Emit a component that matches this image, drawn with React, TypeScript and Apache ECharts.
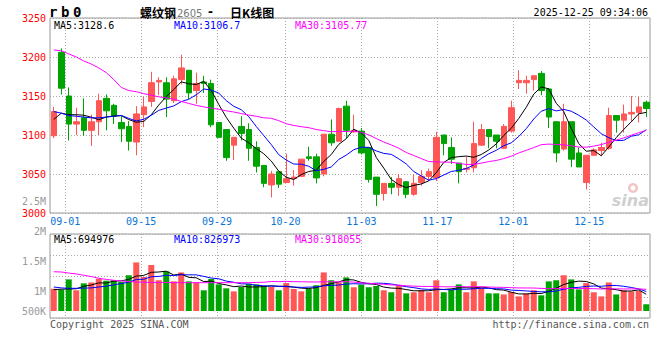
import React, { useEffect, useRef } from "react";
import * as echarts from "echarts";

const dates = [
  "08-28", "08-29", "09-01", "09-02", "09-03", "09-04", "09-05", "09-08", "09-09", "09-10",
  "09-11", "09-12", "09-15", "09-16", "09-17", "09-18", "09-19", "09-22", "09-23", "09-24",
  "09-25", "09-26", "09-29", "09-30", "10-09", "10-10", "10-13", "10-14", "10-15", "10-16",
  "10-17", "10-20", "10-21", "10-22", "10-23", "10-24", "10-27", "10-28", "10-29", "10-30",
  "10-31", "11-03", "11-04", "11-05", "11-06", "11-07", "11-10", "11-11", "11-12", "11-13",
  "11-14", "11-17", "11-18", "11-19", "11-20", "11-21", "11-24", "11-25", "11-26", "11-27",
  "11-28", "12-01", "12-02", "12-03", "12-04", "12-05", "12-08", "12-09", "12-10", "12-11",
  "12-12", "12-15", "12-16", "12-17", "12-18", "12-19", "12-22", "12-23", "12-24", "12-25",
];

const opens = [
  3099, 3206, 3150, 3114, 3122, 3106, 3117, 3147, 3138, 3116,
  3111, 3091, 3126, 3143, 3168, 3167, 3144, 3171, 3183, 3157,
  3168, 3166, 3116, 3107, 3087, 3111, 3107, 3084, 3061, 3036,
  3053, 3039, 3044, 3047, 3072, 3072, 3050, 3101, 3092, 3137,
  3104, 3105, 3084, 3046, 3025, 3038, 3033, 3040, 3024, 3039,
  3047, 3045, 3100, 3084, 3064, 3056, 3058, 3087, 3107, 3100,
  3083, 3105, 3167, 3167, 3171, 3179, 3159, 3117, 3082, 3117,
  3077, 3039, 3074, 3080, 3083, 3125, 3119, 3127, 3129, 3142,
];
const closes = [
  3130, 3160, 3114, 3117, 3106, 3117, 3144, 3131, 3124, 3108,
  3092, 3127, 3136, 3167, 3170, 3146, 3172, 3186, 3154, 3166,
  3166, 3113, 3097, 3071, 3097, 3102, 3083, 3060, 3038, 3050,
  3037, 3044, 3046, 3069, 3070, 3045, 3101, 3090, 3134, 3106,
  3106, 3077, 3043, 3024, 3038, 3033, 3044, 3024, 3038, 3047,
  3053, 3097, 3089, 3069, 3053, 3057, 3089, 3107, 3098, 3092,
  3111, 3135, 3170, 3170, 3176, 3157, 3123, 3077, 3117, 3069,
  3059, 3074, 3081, 3084, 3125, 3119, 3127, 3129, 3136, 3134,
];
const lows = [
  3096, 3152, 3093, 3100, 3099, 3086, 3100, 3106, 3114, 3091,
  3080, 3074, 3110, 3136, 3151, 3123, 3141, 3165, 3146, 3140,
  3154, 3110, 3096, 3067, 3068, 3093, 3067, 3052, 3033, 3020,
  3032, 3039, 3035, 3046, 3067, 3038, 3047, 3086, 3092, 3096,
  3103, 3075, 3039, 3009, 3016, 3024, 3022, 3019, 3022, 3035,
  3041, 3041, 3074, 3063, 3038, 3052, 3052, 3086, 3083, 3083,
  3082, 3103, 3159, 3153, 3157, 3151, 3109, 3065, 3080, 3059,
  3059, 3030, 3074, 3073, 3081, 3103, 3103, 3117, 3116, 3123,
];
const highs = [
  3136, 3211, 3161, 3135, 3147, 3126, 3153, 3152, 3140, 3124,
  3118, 3137, 3149, 3181, 3174, 3174, 3176, 3203, 3183, 3180,
  3176, 3171, 3116, 3107, 3097, 3124, 3115, 3092, 3061, 3054,
  3053, 3076, 3055, 3069, 3085, 3076, 3101, 3120, 3135, 3144,
  3126, 3109, 3084, 3046, 3038, 3046, 3050, 3041, 3050, 3055,
  3057, 3104, 3100, 3097, 3064, 3072, 3117, 3114, 3107, 3100,
  3114, 3144, 3183, 3176, 3176, 3182, 3160, 3117, 3140, 3117,
  3084, 3074, 3083, 3090, 3135, 3125, 3139, 3150, 3149, 3144,
];

const volumes = [
  938000, 902000, 1334000, 874000, 1168000, 1205000, 1362000, 1279000, 1297000, 1224000,
  1509000, 2052000, 1435000, 1941000, 1297000, 1674000, 1251000, 1628000, 1251000, 1205000,
  874000, 1352000, 1122000, 957000, 828000, 1012000, 1150000, 1122000, 1040000, 1012000,
  874000, 1178000, 929000, 828000, 929000, 1086000, 1628000, 1297000, 1205000, 1417000,
  1003000, 1113000, 1003000, 1058000, 874000, 791000, 1058000, 745000, 791000, 883000,
  791000, 1297000, 791000, 902000, 1122000, 791000, 1251000, 975000, 745000, 745000,
  699000, 800000, 616000, 736000, 874000, 662000, 1251000, 1297000, 1509000, 1334000,
  911000, 1178000, 791000, 616000, 1205000, 699000, 874000, 828000, 846000, 285000,
];

// moving-average values at the left edge (their windows reach before the first candle)
const ma5Lead = [3120, 3128, 3126, 3126];
const ma10Lead = [3130, 3128, 3125, 3124, 3123, 3122, 3122, 3123, 3124];
const ma30Lead = [
  3209, 3208, 3204, 3200, 3195, 3191, 3186, 3180, 3171, 3161,
  3157, 3155.6, 3153, 3151, 3149, 3147.6, 3146, 3143, 3140.5, 3138,
  3136, 3134.5, 3133, 3131, 3129.5, 3127.5, 3125.6, 3124, 3122,
];
const vma5Lead = [902000, 920000, 929000, 938000];
const vma10Lead = [1012000, 975000, 957000, 957000, 966000, 975000, 1012000, 1049000, 1104000];
const vma30Lead = [
  1656000, 1647000, 1601000, 1564000, 1509000, 1454000, 1380000, 1334000, 1297000, 1270000,
  1242000, 1224000, 1214000, 1205000, 1205000, 1205000, 1196000, 1196000, 1196000, 1196000,
  1196000, 1196000, 1196000, 1196000, 1196000, 1196000, 1196000, 1205000, 1214000,
];

const xLabelDates = ["09-01", "09-15", "09-29", "10-20", "11-03", "11-17", "12-01", "12-15"];
const priceMin = 3000;
const priceMax = 3250;
const priceStep = 50;
const volTickLabels = ["2M", "1.5M", "1M", "500K"];
const volTickY = [231, 261, 291, 311];

const title = { code: ["r", "b", "0"], name: "螺纹钢", contract: "2605", kind: "日K线图" };
const timestamp = "2025-12-25 09:34:06";
const priceLegend = ["MA5:3128.6", "MA10:3106.7", "MA30:3105.77"];
const volLegend = ["MA5:694976", "MA10:826973", "MA30:918055"];

const UP = "#ff5656";
const DOWN = "#00a400";
const MONO = "'DejaVu Sans Mono', monospace";

function movingAverage(values: number[], n: number, lead: number[]) {
  return values.map((_, i) => {
    if (i < n - 1) return lead[i];
    let s = 0;
    for (let k = i - n + 1; k <= i; k++) s += values[k];
    return +(s / n).toFixed(2);
  });
}

export default function App() {
  const ref = useRef<HTMLDivElement>(null);
  useEffect(() => {
    if (!ref.current) return;
    const chart = echarts.init(ref.current, null, { renderer: "svg" });
    const candles = dates.map((_, i) => [opens[i], closes[i], lows[i], highs[i]]);
    const volBars = volumes.map((v, i) => ({
      value: v,
      itemStyle: { color: closes[i] >= opens[i] ? UP : DOWN },
    }));
    const labelIdx = new Set(xLabelDates.map((d) => dates.indexOf(d)));
    const showAt = (idx: number) => labelIdx.has(idx);
    const dotted = { color: "#aaaaaa", type: [1, 2] as any, width: 1 };
    const legendColors = ["#000000", "#0000ff", "#ff00ff"];
    const legendX = [54, 174, 295];

    const graphic: any[] = [];
    const codeX = [49, 61, 73];
    title.code.forEach((t, k) =>
      graphic.push({ type: "text", x: codeX[k], y: 12, style: { text: t, fill: "#000", font: `bold 14px ${MONO}`, verticalAlign: "middle" } })
    );
    graphic.push({ type: "text", x: 140, y: 12, style: { text: title.name, fill: "#000", font: "bold 12px 'Noto Sans CJK SC'", verticalAlign: "middle" } });
    graphic.push({ type: "text", x: 177, y: 13, style: { text: title.contract, fill: "#777", font: "10px 'DejaVu Sans'", verticalAlign: "middle" } });
    graphic.push({ type: "text", x: 208, y: 12, style: { text: "-", fill: "#000", font: "bold 12px 'DejaVu Sans'", verticalAlign: "middle" } });
    graphic.push({ type: "text", x: 230, y: 12, style: { text: title.kind, fill: "#000", font: "bold 12px 'Noto Sans CJK SC'", verticalAlign: "middle" } });
    graphic.push({ type: "text", x: 648, y: 12.5, style: { text: timestamp, fill: "#000", font: `10px ${MONO}`, align: "right", verticalAlign: "middle" } });
    priceLegend.forEach((t, k) =>
      graphic.push({ type: "text", x: legendX[k], y: 25, style: { text: t, fill: legendColors[k], font: `10px ${MONO}`, verticalAlign: "middle" } })
    );
    volLegend.forEach((t, k) =>
      graphic.push({ type: "text", x: legendX[k], y: 239, style: { text: t, fill: legendColors[k], font: `10px ${MONO}`, verticalAlign: "middle" } })
    );
    graphic.push({ type: "text", x: 46, y: 201, style: { text: "2.5M", fill: "#999", font: `10px ${MONO}`, align: "right", verticalAlign: "middle" } });
    volTickLabels.forEach((t, k) =>
      graphic.push({ type: "text", x: 46, y: volTickY[k], style: { text: t, fill: "#999", font: `10px ${MONO}`, align: "right", verticalAlign: "middle" } })
    );
    graphic.push({ type: "text", x: 50, y: 324, style: { text: "Copyright 2025 SINA.COM", fill: "#555", font: `10px ${MONO}`, verticalAlign: "middle" } });
    graphic.push({ type: "text", x: 649, y: 324, style: { text: "http://finance.sina.com.cn", fill: "#555", font: `10px ${MONO}`, align: "right", verticalAlign: "middle" } });
    graphic.push({ type: "ring", shape: { cx: 633, cy: 188, r: 5, r0: 2.5 }, style: { fill: "#f3c4c4" }, z: 1 });
    graphic.push({ type: "text", x: 649, y: 200, style: { text: "sina", fill: "#cfcfcf", font: "italic bold 16px 'DejaVu Sans'", align: "right", verticalAlign: "middle" }, z: 1 });

    chart.setOption({
      animation: false,
      graphic,
      grid: [
        { left: 50, right: 10, top: 18, height: 195, show: true, borderColor: "#999", borderWidth: 1, backgroundColor: "transparent" },
        { left: 50, right: 10, top: 234, height: 84, show: true, borderColor: "#999", borderWidth: 1, backgroundColor: "transparent" },
        { left: 50, right: 10, top: 234, height: 77, show: false },
      ],
      xAxis: [
        { type: "category", gridIndex: 0, data: dates, boundaryGap: true, position: "top", axisLine: { show: false }, axisTick: { show: false }, axisLabel: { show: false }, splitLine: { show: false } },
        {
          type: "category", gridIndex: 0, data: dates, boundaryGap: false, position: "bottom",
          axisLine: { show: false }, axisTick: { show: false },
          axisLabel: { interval: showAt, color: "#0a74d6", fontFamily: "DejaVu Sans Mono", fontSize: 10, margin: 3 },
          splitLine: { show: true, interval: showAt, lineStyle: dotted },
        },
        {
          type: "category", gridIndex: 1, data: dates, boundaryGap: false,
          axisLine: { show: false }, axisTick: { show: false }, axisLabel: { show: false },
          splitLine: { show: true, interval: showAt, lineStyle: dotted },
        },
        { type: "category", gridIndex: 2, data: dates, boundaryGap: true, axisLine: { show: false }, axisTick: { show: false }, axisLabel: { show: false }, splitLine: { show: false } },
      ],
      yAxis: [
        {
          type: "value", gridIndex: 0, min: priceMin, max: priceMax, interval: priceStep,
          axisLine: { show: false }, axisTick: { show: false },
          axisLabel: { color: "#ff0000", fontFamily: "DejaVu Sans Mono", fontSize: 10, margin: 4, padding: [0, 0, 4, 0], formatter: (v: number) => String(v) },
          splitLine: { show: true, lineStyle: dotted },
        },
        {
          type: "value", gridIndex: 1, min: 0, max: 4, interval: 1,
          axisLine: { show: false }, axisTick: { show: false }, axisLabel: { show: false },
          splitLine: { show: true, lineStyle: dotted },
        },
        { type: "value", gridIndex: 2, min: 0, max: 3250000, axisLine: { show: false }, axisTick: { show: false }, axisLabel: { show: false }, splitLine: { show: false } },
      ],
      series: [
        {
          type: "candlestick", xAxisIndex: 0, yAxisIndex: 0, data: candles, barWidth: 6,
          itemStyle: { color: UP, color0: DOWN, borderColor: UP, borderColor0: DOWN, borderWidth: 1 },
        },
        { type: "line", xAxisIndex: 0, yAxisIndex: 0, data: movingAverage(closes, 5, ma5Lead), symbol: "none", lineStyle: { color: "#000", width: 1 } },
        { type: "line", xAxisIndex: 0, yAxisIndex: 0, data: movingAverage(closes, 10, ma10Lead), symbol: "none", lineStyle: { color: "#0000ff", width: 1 } },
        { type: "line", xAxisIndex: 0, yAxisIndex: 0, data: movingAverage(closes, 30, ma30Lead), symbol: "none", lineStyle: { color: "#ff00ff", width: 1 } },
        { type: "bar", xAxisIndex: 3, yAxisIndex: 2, data: volBars, barWidth: 6 },
        { type: "line", xAxisIndex: 3, yAxisIndex: 2, data: movingAverage(volumes, 5, vma5Lead), symbol: "none", lineStyle: { color: "#000", width: 1 } },
        { type: "line", xAxisIndex: 3, yAxisIndex: 2, data: movingAverage(volumes, 10, vma10Lead), symbol: "none", lineStyle: { color: "#0000ff", width: 1 } },
        { type: "line", xAxisIndex: 3, yAxisIndex: 2, data: movingAverage(volumes, 30, vma30Lead), symbol: "none", lineStyle: { color: "#ff00ff", width: 1 } },
      ],
    });
    return () => chart.dispose();
  }, []);
  return <div ref={ref} style={{ width: 660, height: 360, position: "absolute", left: 0, top: 0, background: "#fff" }} />;
}
